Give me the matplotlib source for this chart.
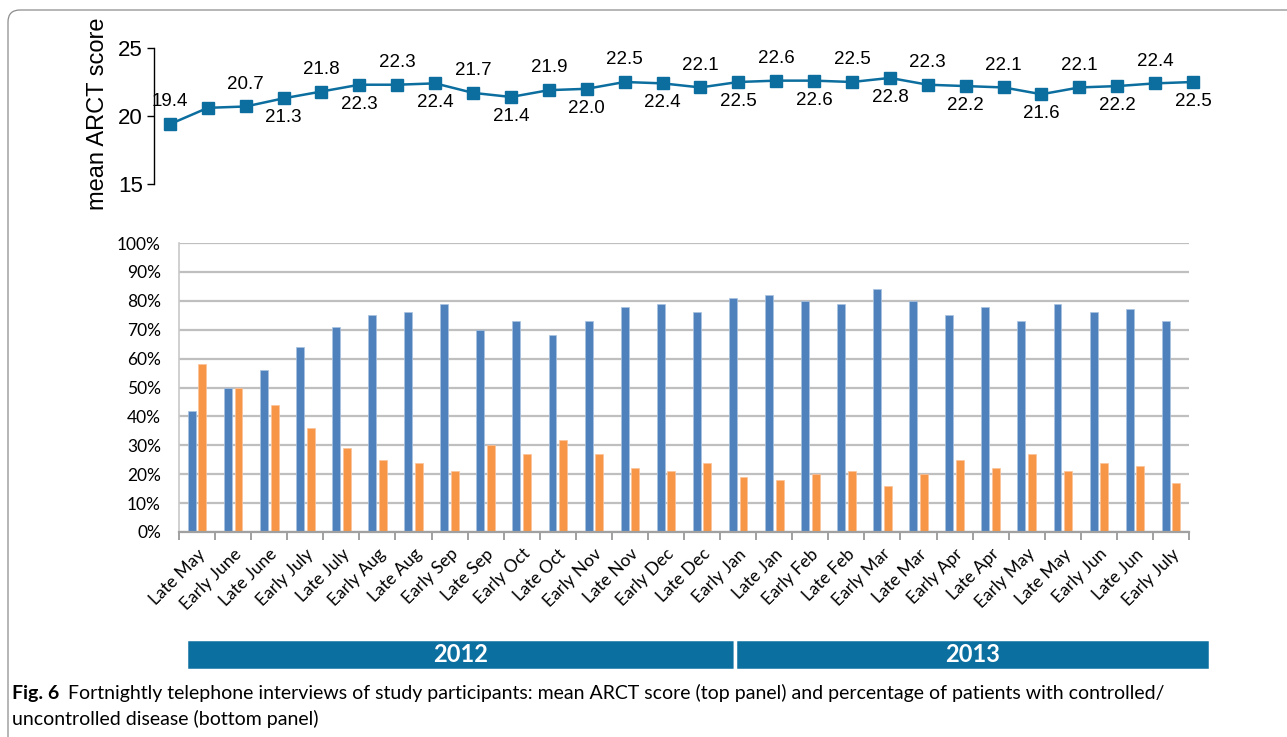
import matplotlib
matplotlib.use('Agg')
import matplotlib.pyplot as plt
from matplotlib import font_manager
from matplotlib.patches import FancyBboxPatch
from matplotlib.ticker import PercentFormatter, FixedLocator

W, H = 1287, 737

periods = ['Late May', 'Early June', 'Late June', 'Early July', 'Late July', 'Early Aug',
           'Late Aug', 'Early Sep', 'Late Sep', 'Early Oct', 'Late Oct', 'Early Nov',
           'Late Nov', 'Early Dec', 'Late Dec', 'Early Jan', 'Late Jan', 'Early Feb',
           'Late Feb', 'Early Mar', 'Late Mar', 'Early Apr', 'Late Apr', 'Early May',
           'Late May', 'Early Jun', 'Late Jun', 'Early July']

# mean ARCT score (second point has no printed label in the original)
arct = [19.4, 20.6, 20.7, 21.3, 21.8, 22.3, 22.3, 22.4, 21.7, 21.4, 21.9, 22.0, 22.5, 22.4,
        22.1, 22.5, 22.6, 22.6, 22.5, 22.8, 22.3, 22.2, 22.1, 21.6, 22.1, 22.2, 22.4, 22.5]
arct_labels = ['19.4', '', '20.7', '21.3', '21.8', '22.3', '22.3', '22.4', '21.7', '21.4',
               '21.9', '22.0', '22.5', '22.4', '22.1', '22.5', '22.6', '22.6', '22.5', '22.8',
               '22.3', '22.2', '22.1', '21.6', '22.1', '22.2', '22.4', '22.5']

controlled = [42, 50, 56, 64, 71, 75, 76, 79, 70, 73, 68, 73, 78, 79, 76, 81, 82, 80, 79, 84,
              80, 75, 78, 73, 79, 76, 77, 73]
uncontrolled = [58, 50, 44, 36, 29, 25, 24, 21, 30, 27, 32, 27, 22, 21, 24, 19, 18, 20, 21, 16,
                20, 25, 22, 27, 21, 24, 23, 17]

years = ['2012', '2013']
year_counts = [15, 13]

caption_bold = 'Fig. 6'
caption_text = ('Fortnightly telephone interviews of study participants: mean ARCT score (top panel) '
                'and percentage of patients with controlled/\nuncontrolled disease (bottom panel)')

line_col = '#0B6E9F'
blue = '#4F81BD'
orange = '#F79646'
year_col = '#0B6FA0'

names = {f.name for f in font_manager.fontManager.ttflist}
cal = 'Lato' if 'Lato' in names else 'DejaVu Sans'
arial = 'Liberation Sans' if 'Liberation Sans' in names else 'DejaVu Sans'

fig = plt.figure(figsize=(W / 100, H / 100), dpi=100)

def box(l, t, r, b):
    return [l / W, 1 - b / H, (r - l) / W, (b - t) / H]

# ---- top panel: mean ARCT score
ax1 = fig.add_axes(box(154, 48, 1212, 184))
x = list(range(len(arct)))
ax1.plot(x, arct, color=line_col, lw=1.8, marker='s', ms=8)
for i, (v, lab) in enumerate(zip(arct, arct_labels)):
    if not lab:
        continue
    dy = 16 if i % 2 == 0 else -14
    ax1.annotate(lab, (i, v), xytext=(0, dy), textcoords='offset points',
                 ha='center', va='center', fontsize=13.5, family=arial)
ax1.set_xlim(-0.42, 27.5)
ax1.set_ylim(15, 25)
ax1.set_yticks([15, 20, 25])
ax1.set_xticks([])
for s in ['top', 'right', 'bottom']:
    ax1.spines[s].set_visible(False)
ax1.spines['left'].set_linewidth(1.0)
ax1.tick_params(axis='y', length=5, width=1.0, labelsize=16, pad=3)
for t in ax1.get_yticklabels():
    t.set_family(arial)
ax1.set_ylabel('mean ARCT score', fontsize=17, family=arial)
ax1.yaxis.set_label_coords(-0.0425, 0.52)
ax1.patch.set_alpha(0)

# ---- bottom panel: controlled / uncontrolled
ax2 = fig.add_axes(box(179, 243, 1189, 532))
bw = 0.22
ax2.bar([i - 0.145 for i in x], [c / 100 for c in controlled], width=bw, color=blue,
        edgecolor='#A9C2E0', lw=0.5, zorder=3)
ax2.bar([i + 0.15 for i in x], [u / 100 for u in uncontrolled], width=bw, color=orange,
        edgecolor='#FBC29A', lw=0.5, zorder=3)
ax2.set_xlim(-0.5, 27.5)
ax2.set_ylim(0, 1)
ax2.set_yticks([i / 10 for i in range(11)])
ax2.yaxis.set_major_formatter(PercentFormatter(1.0, decimals=0))
ax2.grid(axis='y', color='#BFBFBF', lw=1.6, zorder=0)
ax2.set_xticks(x)
ax2.set_xticklabels(periods, rotation=45, ha='right', rotation_mode='anchor',
                    fontsize=12.5, family=cal)
ax2.xaxis.set_minor_locator(FixedLocator([i - 0.5 for i in range(len(x) + 1)]))
ax2.tick_params(axis='x', which='major', length=0, pad=10)
ax2.tick_params(axis='x', which='minor', length=6, width=1.4, color='#A0A0A0')
ax2.tick_params(axis='y', length=0, labelsize=12.5, pad=13)
for t in ax2.get_yticklabels():
    t.set_family(cal)
for s in ['top', 'right']:
    ax2.spines[s].set_visible(False)
ax2.spines['bottom'].set_color('#A0A0A0')
ax2.spines['bottom'].set_linewidth(1.6)
ax2.spines['left'].set_color('#C8C8C8')
ax2.spines['left'].set_linewidth(1.2)
ax2.spines['bottom'].set_zorder(4)

# ---- year bands
ax3 = fig.add_axes(box(186, 639, 1210, 670))
lefts = [sum(year_counts[:k]) for k in range(len(year_counts))]
ax3.barh(0, year_counts, left=lefts, height=1, color=year_col, edgecolor='white', lw=2.5)
for yr, l, c in zip(years, lefts, year_counts):
    ax3.text(l + c / 2, 0, yr, ha='center', va='center', color='white',
             fontsize=17, fontweight='bold', family=cal)
ax3.set_xlim(0, sum(year_counts))
ax3.set_ylim(-0.5, 0.5)
ax3.axis('off')

# ---- caption
cap_size = 14
tb = fig.text(12 / W, 1 - 693 / H, caption_bold, fontsize=cap_size, fontweight='bold',
              family=cal, va='center', ha='left')
fig.canvas.draw()
bb = tb.get_window_extent()
fig.text((bb.x1 + 9) / W, 1 - 693 / H, caption_text.split('\n')[0], fontsize=cap_size,
         family=cal, va='center', ha='left')
fig.text(12 / W, 1 - 719 / H, caption_text.split('\n')[1], fontsize=cap_size,
         family=cal, va='center', ha='left')

# ---- rounded frame
frame = FancyBboxPatch((0.08, -0.5), 14, 7.27 + 0.5, boxstyle='round,pad=0,rounding_size=0.12',
                       transform=fig.dpi_scale_trans, fill=False, ec='#8C8C8C', lw=0.9)
fig.patches.append(frame)

fig.savefig('out.png', dpi=100)
